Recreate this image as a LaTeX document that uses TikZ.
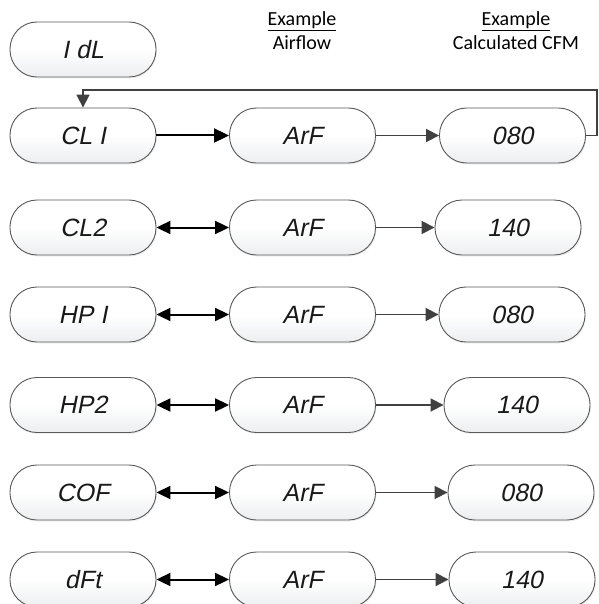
\documentclass[tikz,border=0pt]{standalone}
\usepackage{fontspec}
\usepackage{tikz}
\usetikzlibrary{positioning,arrows.meta,shadows}

\newfontfamily\headfont{Carlito}
\newfontfamily\lcdfont[FakeSlant=0.2]{Liberation Sans}

\definecolor{boxline}{HTML}{595959}
\definecolor{boxshade}{HTML}{ECEEF0}
\definecolor{arrowgray}{HTML}{404040}

\tikzset{
  lcd/.style={draw=boxline, line width=0.9pt, rounded corners=27pt,
    minimum width=146pt, minimum height=55pt, inner sep=0pt,
    top color=white, bottom color=boxshade, middle color=white,
    drop shadow={opacity=0.12, shadow xshift=1pt, shadow yshift=-1.5pt},
    font=\lcdfont\fontsize{25}{25}\selectfont, text=black!90},
  fwd/.style={-{Triangle[length=15pt,width=14pt]}, line width=2pt, black},
  both/.style={{Triangle[length=14pt,width=13pt]}-{Triangle[length=14pt,width=13pt]}, line width=2pt, black},
  calc/.style={-{Triangle[length=13pt,width=13pt]}, line width=1.8pt, arrowgray},
  head/.style={align=center, font=\headfont\fontsize{20}{24}\selectfont}
}

\begin{document}
\begin{tikzpicture}[%
x=1pt, y=-1pt,
on grid,
node distance=219.5pt
]
\useasboundingbox (0,0) rectangle (598,604);

\node[head] (hair) at (302,31) {\underline{Example}\\Airflow};
\node[head] (hcfm) at (516,31) {\underline{Example}\\Calculated CFM};

\node[lcd] (idl) at (83,49.5) {I dL};

\node[lcd] (cl1) at (83,135.5) {CL I};
\node[lcd] (arf1) [right=of cl1] {ArF};
\node[lcd] (cfm1) [right=210pt of arf1] {080};

\node[lcd] (cl2) at (83,227.5) {CL2};
\node[lcd] (arf2) [right=of cl2] {ArF};
\node[lcd] (cfm2) [right=205.5pt of arf2] {140};

\node[lcd] (hp1) at (83,314.5) {HP I};
\node[lcd] (arf3) [right=of hp1] {ArF};
\node[lcd] (cfm3) [right=209.5pt of arf3] {080};

\node[lcd] (hp2) at (83,405) {HP2};
\node[lcd] (arf4) [right=of hp2] {ArF};
\node[lcd] (cfm4) [right=214.5pt of arf4] {140};

\node[lcd] (cof) at (83,492.5) {COF};
\node[lcd] (arf5) [right=of cof] {ArF};
\node[lcd] (cfm5) [right=218.5pt of arf5] {080};

\node[lcd] (dft) at (83,579.5) {dFt};
\node[lcd] (arf6) [right=of dft] {ArF};
\node[lcd] (cfm6) [right=219.5pt of arf6] {140};

\draw[fwd] (cl1) -- (arf1);
\draw[calc] (arf1) -- (cfm1);
\foreach \mode/\n in {cl2/2,hp1/3,hp2/4,cof/5,dft/6}{
  \draw[both] (\mode) -- (arf\n);
  \draw[calc] (arf\n) -- (cfm\n);
}

% back to the first mode
\coordinate (back) at (597,90);
\draw[calc] (cfm1.east) -| (back) -| (cl1.north);

\end{tikzpicture}
\end{document}
